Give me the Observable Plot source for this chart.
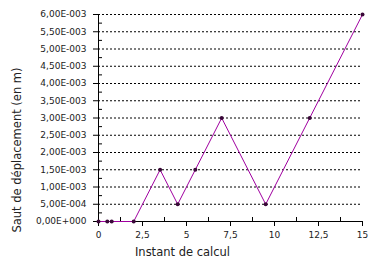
<!DOCTYPE html>
<html><head><meta charset="utf-8">
<script src="https://cdn.jsdelivr.net/npm/d3@7"></script>
<script src="https://cdn.jsdelivr.net/npm/@observablehq/plot@0.6"></script>
<style>body{margin:0;background:#fff;} svg{font-family:"DejaVu Sans",sans-serif;}</style>
</head><body><div id="chart"></div>
<script>
const times = [0, 0.5, 0.75, 2, 3.5, 4.5, 5.5, 7, 9.5, 12, 15];
const sauts = [0, 0, 0, 0, 0.0015, 0.0005, 0.0015, 0.003, 0.0005, 0.003, 0.006];
const xMajor = [0, 2.5, 5, 7.5, 10, 12.5, 15];
const xMinor = [1.25, 3.75, 6.25, 8.75, 11.25, 13.75];
const yMajor = [0, 0.0005, 0.001, 0.0015, 0.002, 0.0025, 0.003, 0.0035, 0.004, 0.0045, 0.005, 0.0055, 0.006];
const yMinor = [0.00025, 0.00075, 0.00125, 0.00175, 0.00225, 0.00275, 0.00325, 0.00375, 0.00425, 0.00475, 0.00525, 0.00575];
const xTitle = "Instant de calcul";
const yTitle = "Saut de déplacement (en m)";

const data = times.map((t, i) => ({t, v: sauts[i]}));

function sci(d) {
  if (d === 0) return "0,00E+000";
  let e = Math.floor(Math.log10(Math.abs(d)) + 1e-9);
  let m = d / Math.pow(10, e);
  if (Math.round(m * 100) / 100 >= 10) { e += 1; m /= 10; }
  const s = e < 0 ? "-" : "+";
  return m.toFixed(2).replace(".", ",") + "E" + s + String(Math.abs(e)).padStart(3, "0");
}
const fx = d => String(d).replace(".", ",");

const chart = Plot.plot({
  width: 377, height: 265,
  marginLeft: 98, marginRight: 15, marginTop: 14, marginBottom: 44,
  style: {fontSize: "9px", fontFamily: "DejaVu Sans, sans-serif", color: "#000"},
  x: {domain: [0, 15]},
  y: {domain: [0, 0.006]},
  marks: [
    Plot.ruleY(yMajor.filter(d => d > 0), {x1: 0, x2: 15, stroke: "#000", strokeDasharray: "2,2", strokeWidth: 1}),
    Plot.axisY({ticks: yMajor, tickFormat: sci, tickSize: 5, tickPadding: 7, label: null, fill: "#222"}),
    Plot.axisY({ticks: yMinor, tickFormat: () => "", tickSize: -4, label: null}),
    Plot.axisX({ticks: xMajor, tickFormat: fx, tickSize: 5, tickPadding: 5, label: null, fill: "#222"}),
    Plot.axisX({ticks: xMinor, tickFormat: () => "", tickSize: -4, label: null}),
    Plot.ruleX([0], {stroke: "#000"}),
    Plot.ruleY([0], {stroke: "#000"}),
    Plot.line(data, {x: "t", y: "v", stroke: "#a000a0", strokeWidth: 1}),
    Plot.dot(data, {x: "t", y: "v", r: 2, fill: "#3a0838", stroke: "none"}),
    Plot.text([xTitle], {frameAnchor: "bottom", dx: -48, dy: 34, fontSize: 11.5, fill: "#222"}),
    Plot.text([yTitle], {frameAnchor: "left", textAnchor: "middle", rotate: -90, dx: -81, dy: 32, fontSize: 11.5, fill: "#222"})
  ]
});
document.getElementById("chart").appendChild(chart);
</script>
</body></html>
